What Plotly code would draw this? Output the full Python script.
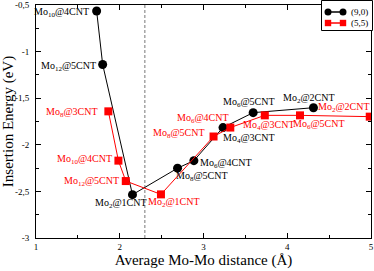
import plotly.graph_objects as go

# (9,0) series
zz_x = [1.724, 1.796, 2.152, 2.69, 2.885, 3.233, 3.593, 4.313]
zz_y = [-0.564, -1.138, -2.535, -2.251, -2.17, -1.815, -1.655, -1.602]
zz_labels = ["Mo<sub>10</sub>@4CNT", "Mo<sub>12</sub>@5CNT", "Mo<sub>2</sub>@1CNT", "Mo<sub>8</sub>@5CNT",
             "Mo<sub>6</sub>@4CNT", "Mo<sub>4</sub>@3CNT", "Mo<sub>6</sub>@5CNT", "Mo<sub>2</sub>@2CNT"]

# (5,5) series
ac_x = [1.864, 1.984, 2.072, 2.492, 3.12, 3.32, 3.732, 4.152, 4.985]
ac_y = [-1.641, -2.17, -2.389, -2.532, -1.911, -1.815, -1.684, -1.684, -1.698]
ac_labels = ["Mo<sub>8</sub>@3CNT", "Mo<sub>10</sub>@4CNT", "Mo<sub>12</sub>@5CNT", "Mo<sub>2</sub>@1CNT",
             "Mo<sub>8</sub>@5CNT", "Mo<sub>6</sub>@4CNT", "Mo<sub>4</sub>@3CNT", "Mo<sub>6</sub>@5CNT",
             "Mo<sub>2</sub>@2CNT"]

series_names = ["(9,0)", "(5,5)"]
series_colors = ["black", "#ff0000"]
series_symbols = ["circle", "square"]
x_ticks = [1, 2, 3, 4, 5]
x_ticktext = ["1", "2", "3", "4", "5"]
y_ticks = [-3, -2.5, -2, -1.5, -1, -0.5]
y_ticktext = ["-3", "-2,5", "-2", "-1,5", "-1", "-0,5"]
ref_line_x = 2.3

# label placement (anchor, xshift, yshift) in pixels
zz_pos = [("right", -6, -2), ("right", -5, -2), ("center", -11, -9), ("left", -4, -8),
          ("left", 4, -3), ("left", -2, -11), ("center", -4, 10), ("center", -4, 9)]
ac_pos = [("right", -8, -1), ("right", -4, 1), ("right", -5, 0), ("center", 13, -8),
          ("right", -7, 3), ("right", 1, 9), ("center", 4, -10), ("center", 19, -9),
          ("right", 2, 9)]

FONT = "Liberation Serif, Times New Roman, serif"

W, H = 374, 271
ML, MR, MT, MB = 36, 3, 5, 33
PW, PH = W - ML - MR, H - MT - MB


def px(xp):
    return (xp - ML) / PW


def py(yp):
    return 1 - (yp - MT) / PH


fig = go.Figure()
fig.add_trace(go.Scatter(x=zz_x, y=zz_y, mode="lines+markers", name=series_names[0],
                         line=dict(color=series_colors[0], width=1),
                         marker=dict(symbol=series_symbols[0], size=9, color=series_colors[0])))
fig.add_trace(go.Scatter(x=ac_x, y=ac_y, mode="lines+markers", name=series_names[1],
                         line=dict(color=series_colors[1], width=1),
                         marker=dict(symbol=series_symbols[1], size=8, color=series_colors[1])))

ann = []
for x, y, t, (a, dx, dy) in zip(zz_x, zz_y, zz_labels, zz_pos):
    ann.append(dict(x=x, y=y, text=t, showarrow=False, xanchor=a, yanchor="middle",
                    xshift=dx, yshift=dy, font=dict(family=FONT, size=10, color=series_colors[0])))
for x, y, t, (a, dx, dy) in zip(ac_x, ac_y, ac_labels, ac_pos):
    ann.append(dict(x=x, y=y, text=t, showarrow=False, xanchor=a, yanchor="middle",
                    xshift=dx, yshift=dy, font=dict(family=FONT, size=10, color=series_colors[1])))

fig.add_shape(type="line", x0=ref_line_x, x1=ref_line_x, y0=0, y1=1, xref="x", yref="paper",
              line=dict(color="#777777", width=1, dash="3px,2px"), layer="below")

# legend drawn by hand (compact box like the reference)
fig.add_shape(type="rect", xref="paper", yref="paper", x0=px(321.5), x1=px(372.5),
              y0=py(30.5), y1=py(0.5), line=dict(color="black", width=1), fillcolor="white", layer="above")
for i, (name, col, sym) in enumerate(zip(series_names, series_colors, series_symbols)):
    yy = py(12 + 11 * i)
    fig.add_shape(type="line", xref="paper", yref="paper", x0=px(328), x1=px(343), y0=yy, y1=yy,
                  line=dict(color=col, width=1.5), layer="above")
    for xc in (328, 343):
        if sym == "circle":
            fig.add_shape(type="circle", xref="paper", yref="paper", xsizemode="pixel", ysizemode="pixel",
                          xanchor=px(xc), yanchor=yy, x0=-3.5, x1=3.5, y0=-3.5, y1=3.5,
                          fillcolor=col, line=dict(color=col, width=0), layer="above")
        else:
            fig.add_shape(type="rect", xref="paper", yref="paper", xsizemode="pixel", ysizemode="pixel",
                          xanchor=px(xc), yanchor=yy, x0=-3.2, x1=3.2, y0=-3.2, y1=3.2,
                          fillcolor=col, line=dict(color=col, width=0), layer="above")
    ann.append(dict(x=px(349), y=yy, xref="paper", yref="paper", text=name, showarrow=False,
                    xanchor="left", yanchor="middle", font=dict(family=FONT, size=9, color="black")))

axis_common = dict(showline=True, linecolor="black", linewidth=1, mirror="ticks",
                   ticks="inside", ticklen=5, tickcolor="black", tickwidth=1,
                   showgrid=False, zeroline=False, automargin=False,
                   tickfont=dict(family=FONT, size=9, color="black"))

fig.update_layout(
    width=W, height=H,
    margin=dict(l=ML, r=MR, t=MT, b=MB),
    paper_bgcolor="white", plot_bgcolor="white",
    font=dict(family=FONT, color="black"),
    annotations=ann,
    showlegend=False,
    xaxis=dict(range=[1, 5], tickvals=x_ticks, ticktext=x_ticktext,
               minor=dict(ticks="inside", ticklen=3, dtick=0.5, tickcolor="black"),
               title=dict(text="Average Mo-Mo distance (Å)", font=dict(family=FONT, size=15), standoff=2),
               **axis_common),
    yaxis=dict(range=[-3, -0.5], tickvals=y_ticks, ticktext=y_ticktext,
               minor=dict(ticks="inside", ticklen=3, dtick=0.25, tickcolor="black"),
               title=dict(text="Insertion Energy (eV)", font=dict(family=FONT, size=15), standoff=2),
               ticklabelstandoff=4,
               **axis_common),
)

fig.write_html("out.html", config={"displayModeBar": False},
               post_script="document.body.style.margin='0';document.body.style.overflow='hidden';")
